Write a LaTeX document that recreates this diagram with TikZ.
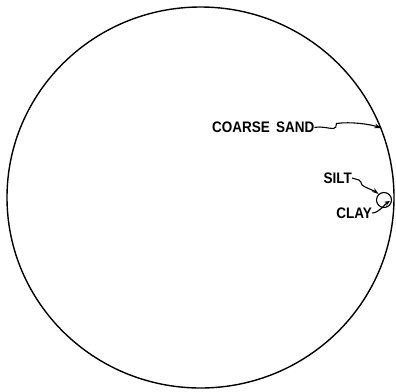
\documentclass[tikz,border=0pt]{standalone}
\usepackage{fontspec}
\setmainfont{Liberation Sans}
\usetikzlibrary{arrows.meta,shapes.geometric}
\tikzset{
  grain/.style={draw,line width=1.4pt,inner sep=0pt},
  soillabel/.style={font=\bfseries\fontsize{13.5}{14}\selectfont,inner sep=0pt},
  pointer/.style={-{Stealth[length=7pt,width=4.5pt]},line width=1.1pt},
  tinypointer/.style={-{Stealth[length=5.5pt,width=4.5pt]},line width=1.1pt}
}
\newcommand{\tall}[1]{\scalebox{1}[1.13]{#1}}

\begin{document}
\begin{tikzpicture}[x=1pt,y=-1pt]
  \useasboundingbox (0,0) rectangle (396,391);
  % grains drawn to scale
  \node[grain,ellipse,minimum width=387pt,minimum height=381pt] (sand) at (200.5,197.5) {};
  \node[grain,circle,line width=1.1pt,minimum size=15pt] (silt) at (384,200) {};
  \coordinate (clay) at (390,201);
  % labels
  \node[soillabel,anchor=west] (sandlbl) at (212,127.5) {\tall{COARSE\hspace{.45em}SAND}};
  \node[soillabel,anchor=east] (siltlbl) at (352,178) {\tall{SILT}};
  \node[soillabel,anchor=east] (claylbl) at (372,213) {\tall{CLAY}};
  % pointers
  \draw[pointer] (sandlbl.east) .. controls +(8,-1.5) and +(-6,0) .. ++(19,1)
    .. controls +(3,0) and +(-1,3) .. ++(3,-5)
    .. controls +(14,-2) and +(-12,-4) .. (sand.21);
  \draw[pointer] (siltlbl.east) -- ++(7,2) .. controls +(3,1) and +(-2,-2) .. ++(3,5)
    .. controls +(2,2) and +(-4,-3) .. (silt.132);
  \draw[tinypointer] (claylbl.east) .. controls +(7,0) and +(-5,3) .. (clay);
\end{tikzpicture}
\end{document}
